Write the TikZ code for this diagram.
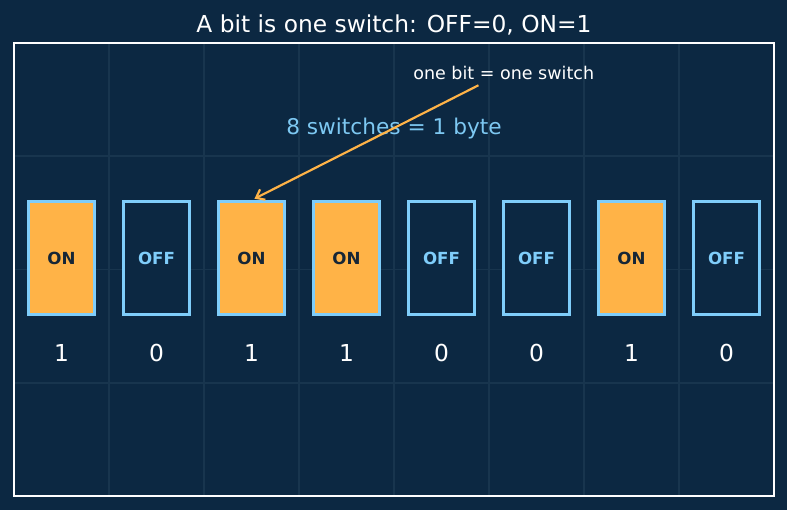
\documentclass[tikz,border=0pt]{standalone}
\usepackage{fontspec}
\setmainfont{DejaVu Sans}
\usepackage{tikz}
\usetikzlibrary{arrows.meta, positioning}
\definecolor{bgnavy}{RGB}{12, 40, 66}
\definecolor{gridnavy}{RGB}{24, 53, 78}
\definecolor{switchorange}{RGB}{255, 179, 71}
\definecolor{edgeblue}{RGB}{127, 205, 250}
\definecolor{bytecyan}{RGB}{125, 200, 242}
\definecolor{ondark}{RGB}{22, 38, 54}

\begin{document}
\begin{tikzpicture}[x=57pt, y=67.95pt,
    onswitch/.style={draw=edgeblue, fill=switchorange, line width=1.6pt, minimum width=39.9pt, minimum height=67.95pt, inner sep=0pt, text=ondark, font=\fontsize{10}{12}\selectfont\bfseries},
    offswitch/.style={draw=edgeblue, fill=bgnavy, line width=1.6pt, minimum width=39.9pt, minimum height=67.95pt, inner sep=0pt, text=edgeblue, font=\fontsize{10}{12}\selectfont\bfseries},
    bitdigit/.style={text=white, inner sep=0pt, font=\fontsize{14}{16}\selectfont},
    gridline/.style={gridnavy, line width=1pt}]
  % Page and axes background
  \fill[bgnavy] (-0.14737, -0.12362) rectangle (8.13684, 4.37969);
  \useasboundingbox (-0.14737, -0.12362) rectangle (8.13684, 4.37969);
  \foreach \gx in {1,...,7} \draw[gridline] (\gx, 0) -- (\gx, 4);
  \foreach \gy in {1,2,3} \draw[gridline] (0, \gy) -- (8, \gy);

  % Title
  \node[text=white, anchor=base, font=\fontsize{14}{16}\selectfont] (title) at (4, 4.093) {A bit is one switch: OFF=0, ON=1};

  % The eight switches
  \node[onswitch] (sw1) at (0.5, 2.1) {ON};
  \node[offswitch] (sw2) at (1.5, 2.1) {OFF};
  \node[onswitch] (sw3) at (2.5, 2.1) {ON};
  \node[onswitch] (sw4) at (3.5, 2.1) {ON};
  \node[offswitch] (sw5) at (4.5, 2.1) {OFF};
  \node[offswitch] (sw6) at (5.5, 2.1) {OFF};
  \node[onswitch] (sw7) at (6.5, 2.1) {ON};
  \node[offswitch] (sw8) at (7.5, 2.1) {OFF};

  % Bit values under the switches
  \node[bitdigit] (bit1) at (0.5, 1.26) {1};
  \node[bitdigit] (bit2) at (1.5, 1.26) {0};
  \node[bitdigit] (bit3) at (2.5, 1.26) {1};
  \node[bitdigit] (bit4) at (3.5, 1.26) {1};
  \node[bitdigit] (bit5) at (4.5, 1.26) {0};
  \node[bitdigit] (bit6) at (5.5, 1.26) {0};
  \node[bitdigit] (bit7) at (6.5, 1.26) {1};
  \node[bitdigit] (bit8) at (7.5, 1.26) {0};

  % Axes frame
  \draw[white, line width=0.8pt] (0, 0) rectangle (8, 4);

  % Notes
  \node[text=bytecyan, anchor=base, font=\fontsize{13}{15}\selectfont] (bytenote) at (4.0, 3.19) {8 switches = 1 byte};
  \node[text=white, anchor=base, inner sep=2.5pt, font=\fontsize{10.5}{12}\selectfont] (bitnote) at (5.155, 3.682) {one bit = one switch};
  \draw[switchorange, line width=1.3pt, -{Straight Barb[length=4.5pt, width=7pt]}, shorten <=2pt, shorten >=2pt] (bitnote) -- (sw3.north);
\end{tikzpicture}
\end{document}
